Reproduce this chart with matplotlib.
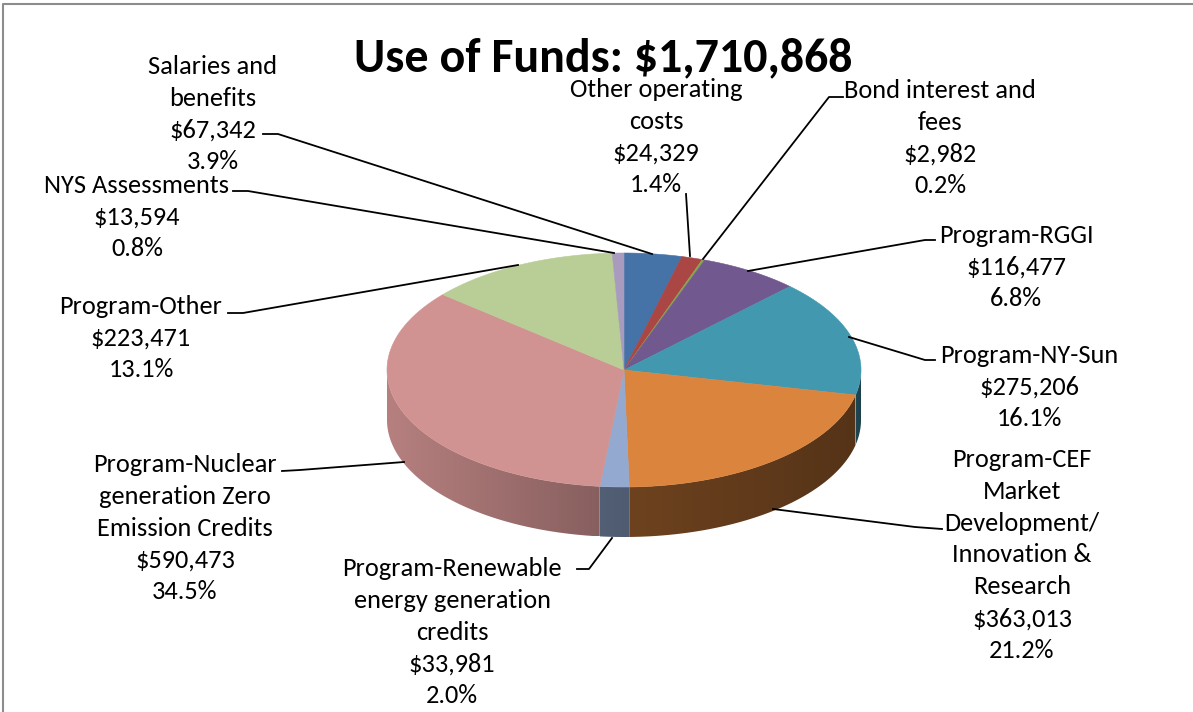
import numpy as np
import matplotlib.pyplot as plt
from matplotlib import font_manager
from matplotlib.patches import Polygon
from matplotlib.colors import to_rgb

# data
names = ['Salaries and\nbenefits', 'Other operating\ncosts', 'Bond interest and\nfees',
         'Program-RGGI', 'Program-NY-Sun',
         'Program-CEF\nMarket\nDevelopment/\nInnovation &\nResearch',
         'Program-Renewable\nenergy generation\ncredits',
         'Program-Nuclear\ngeneration Zero\nEmission Credits',
         'Program-Other', 'NYS Assessments']
values = [67342, 24329, 2982, 116477, 275206, 363013, 33981, 590473, 223471, 13594]
colors = ['#4572A7', '#AA4643', '#89A54E', '#71588F', '#4198AF',
          '#DB843D', '#93A9CF', '#D19392', '#B9CD96', '#A99BBD']
# side wall shading (left factor, right factor)
side_shade = [(0.6, 0.5), (0.6, 0.5), (0.6, 0.5), (0.6, 0.5), (0.47, 0.42),
              (0.50, 0.39), (0.56, 0.54), (0.87, 0.65), (0.6, 0.5), (0.6, 0.5)]

# layout (pixel coords)
label_pos = [(213, 114), (656, 137), (940, 138), (1016, 267), (1029, 387),
             (1022, 555), (452, 632), (185, 528), (141, 338), (137, 217)]
leaders = [[(263, 134), (278, 134), (652, 254)],
           [(686, 194), (690, 256)],
           [(843, 97), (829, 97), (703, 259)],
           [(935, 240), (925, 240), (748, 271)],
           [(935, 360), (925, 360), (849, 337)],
           [(942, 529), (915, 527), (773, 509)],
           [(577, 569), (589, 569), (612, 538)],
           [(282, 471), (300, 470), (404, 462)],
           [(228, 313), (243, 313), (518, 265)],
           [(233, 191), (248, 191), (614, 253)]]
cx, cy, rx, ry, depth = 624, 370, 237, 117, 50


def pick_font():
    for f in ['Carlito', 'Lato', 'DejaVu Sans']:
        try:
            font_manager.findfont(f, fallback_to_default=False)
            return f
        except Exception:
            pass
    return 'DejaVu Sans'


font = pick_font()
plt.rcParams['font.family'] = font

W, H = 1193, 712
fig = plt.figure(figsize=(W / 100, H / 100), dpi=100)
ax = fig.add_axes([0, 0, 1, 1])


def pt(theta, dz=0.0):
    t = np.radians(theta)
    return cx + rx * np.sin(t), cy - ry * np.cos(t) + dz


total = sum(values)
fracs = np.array(values) / total
edges = np.concatenate([[0], np.cumsum(fracs)]) * 360

# side walls (front half only)
for i in range(len(values)):
    a, b = max(edges[i], 90), min(edges[i + 1], 270)
    if b <= a:
        continue
    th = np.linspace(a, b, 80)
    top = [pt(t) for t in th]
    bot = [pt(t, depth) for t in th[::-1]]
    poly = Polygon(top + bot, closed=True, facecolor='none', edgecolor='none')
    ax.add_patch(poly)
    xs = [p[0] for p in top + bot]
    ys = [p[1] for p in top + bot]
    x0, x1 = min(xs), max(xs)
    fl, fr = side_shade[i]
    f = np.linspace(fl, fr, 64)
    base = np.array(to_rgb(colors[i]))
    img = (f[:, None] * base[None, :])[None, :, :]
    im = ax.imshow(img, extent=(x0, x1, max(ys), min(ys)), aspect='auto',
                   interpolation='bilinear', zorder=1)
    im.set_clip_path(poly)

# top face
for i in range(len(values)):
    th = np.linspace(edges[i], edges[i + 1], max(4, int(edges[i + 1] - edges[i]) * 2))
    verts = [(cx, cy)] + [pt(t) for t in th]
    ax.add_patch(Polygon(verts, closed=True, facecolor=colors[i],
                         edgecolor=colors[i], linewidth=0.4, zorder=2))

# labels and leader lines
for i in range(len(values)):
    txt = f"{names[i]}\n${values[i]:,}\n{fracs[i] * 100:.1f}%"
    ax.text(label_pos[i][0], label_pos[i][1], txt, ha='center', va='center',
            fontsize=19, linespacing=1.47, color='#000000', zorder=4)
    lx = [p[0] for p in leaders[i]]
    ly = [p[1] for p in leaders[i]]
    ax.plot(lx, ly, color='black', linewidth=1.3, zorder=3)

ax.text(603, 58, f"Use of Funds: ${total:,}", ha='center', va='center',
        fontsize=34.5, fontweight='bold', color='#000000', zorder=4)

# chart frame
ax.plot([3, 3, W], [H, 4, 4], color='#8c8c8c', linewidth=1.5, zorder=5)

ax.set_xlim(0, W)
ax.set_ylim(H, 0)
ax.axis('off')
fig.savefig('out.png', dpi=100)
